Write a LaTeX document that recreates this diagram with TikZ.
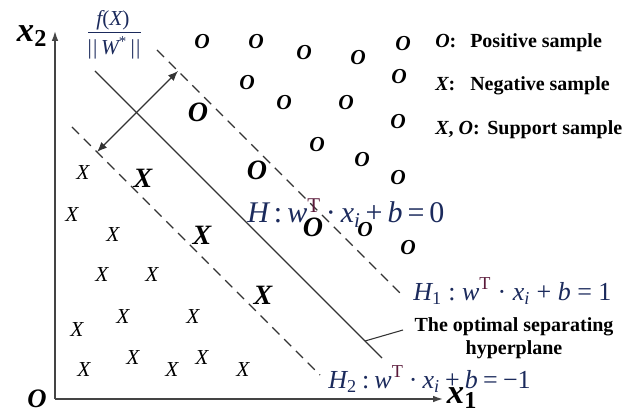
\documentclass[tikz,border=0pt]{standalone}
\usepackage{fontspec}
\setmainfont{Liberation Serif}
\usetikzlibrary{arrows.meta}
\definecolor{mathblue}{HTML}{1B2A5C}
\definecolor{supT}{HTML}{5A1A3A}
\definecolor{axisgray}{HTML}{444444}
\definecolor{linegray}{HTML}{333333}
\newcommand{\hyplabel}[3]{{\itshape H}#1\hspace{#3}:\hspace{#3}{\itshape w}\textsuperscript{\upshape\color{supT}T}\hspace{#3}\textperiodcentered\hspace{#3}{\itshape x}\textsubscript{\itshape i}\hspace{#3}+\hspace{#3}{\itshape b}\hspace{#3}=\hspace{#3}#2}
\begin{document}
\begin{tikzpicture}[x=0.75pt,y=-0.75pt,
  posmark/.style={font=\fontsize{16}{16}\selectfont\bfseries\itshape, inner sep=0pt},
  negmark/.style={font=\fontsize{16}{16}\selectfont\itshape, inner sep=0pt},
  supmark/.style={font=\fontsize{21}{21}\selectfont\bfseries\itshape, inner sep=0pt},
  axislbl/.style={font=\fontsize{26}{26}\selectfont\bfseries\itshape, inner sep=0pt},
  legend/.style={font=\fontsize{15}{15}\selectfont\bfseries, inner sep=0pt, anchor=base west},
  eqbig/.style={font=\fontsize{22.5}{22.5}\selectfont, text=mathblue, inner sep=0pt, anchor=base west},
  eqsmall/.style={font=\fontsize{19.5}{19.5}\selectfont, text=mathblue, inner sep=0pt, anchor=base west},
  fraclbl/.style={font=\fontsize{16}{16}\selectfont, text=mathblue, inner sep=0pt},
  axisline/.style={axisgray, line width=1.1pt, -{Latex[length=7.5pt,width=5pt]}},
  sepline/.style={linegray, line width=0.9pt},
  margin/.style={linegray, line width=0.9pt, dash pattern=on 7.5pt off 5pt},
  gaparrow/.style={linegray, line width=0.9pt, {Latex[length=7.5pt,width=6pt]}-{Latex[length=7.5pt,width=6pt]}}
]
\useasboundingbox (0,0) rectangle (630,416);

% axes
\coordinate (orig) at (55,399);
\coordinate (ytip) at (55,31);
\coordinate (xtip) at (443,399);
\draw[axisline] (orig) -- (ytip);
\draw[axisline] (orig) -- (xtip);
\node[axislbl] (xtwo) at (32,36) {x\textsubscript{\upshape 2}};
\node[axislbl] (xone) at (462,398) {x\textsubscript{\upshape 1}};
\node[font=\fontsize{20}{20}\selectfont\bfseries\itshape, inner sep=0pt] (origlbl) at (37,399) {O};

% positive samples
\foreach \px/\py [count=\i] in {202/42,256/42,304/53,358/58,403/44,247/83,399/77,284/103,346/103,398/122,317/145,362/160,398/178,365/230,408/248}
  \node[posmark] (p\i) at (\px,\py) {O};
% negative samples
\foreach \px/\py [count=\i] in {83/173,72/215,113/235,102/275,152/275,123/317,193/317,77/330,84/370,133/358,172/370,202/358,243/370}
  \node[negmark] (n\i) at (\px,\py) {X};
% support samples
\node[supmark] (sp1) at (198,112) {O};
\node[supmark] (sp2) at (257,170) {O};
\node[supmark] (sp3) at (313,227) {O};
\node[supmark] (sx1) at (143,178) {X};
\node[supmark] (sx2) at (202,235) {X};
\node[supmark] (sx3) at (263,295) {X};

% hyperplanes
\coordinate (s1) at (95,71);
\coordinate (s2) at (382,358);
\coordinate (u1) at (157,50);
\coordinate (u2) at (400,293);
\coordinate (l1) at (72,127);
\coordinate (l2) at (320,375);
\draw[sepline] (s1) -- (s2);
\draw[margin] (u1) -- (u2);
\draw[margin] (l1) -- (l2);

% margin arrow
\coordinate (a1) at (97,152);
\coordinate (a2) at (178,71);
\draw[gaparrow] (a1) -- (a2);

% fraction
\node[fraclbl] (fnum) at (113,20) {{\itshape f}({\itshape X})};
\node[fraclbl] (fden) at (114,48) {|\kern1pt|\,{\itshape W}\textsuperscript{*}\,|\kern1pt|};
\coordinate (fr1) at (88,32);
\coordinate (fr2) at (141,32);
\draw[mathblue, line width=0.7pt] (fr1) -- (fr2);

% equations
\node[eqbig] (hlbl) at (247,223) {\hyplabel{}{0}{0.167em}};
\node[eqsmall] (h1lbl) at (413,300) {\hyplabel{\textsubscript{\upshape 1}}{1}{0.25em}};
\node[eqsmall] (h2lbl) at (328,388) {\hyplabel{\textsubscript{\upshape 2}}{−1}{0.2em}};

% optimal hyperplane label
\node[font=\fontsize{15}{17}\selectfont\bfseries, align=center, inner sep=0pt] (optlbl) at (514,338) {The optimal separating\\hyperplane};
\coordinate (lead1) at (365,341);
\coordinate (lead2) at (403,330);
\draw[linegray, line width=0.8pt] (lead1) -- (lead2);

% legend
\node[legend] (leg1s) at (435,48) {{\itshape O}:};
\node[legend] (leg1t) at (470,48) {Positive sample};
\node[legend] (leg2s) at (435,91) {{\itshape X}:};
\node[legend] (leg2t) at (470,91) {Negative sample};
\node[legend] (leg3s) at (435,135) {{\itshape X}, {\itshape O}:};
\node[legend] (leg3t) at (487,135) {Support sample};
\end{tikzpicture}
\end{document}
